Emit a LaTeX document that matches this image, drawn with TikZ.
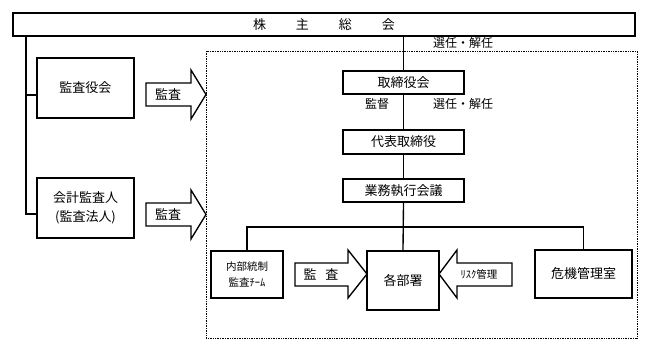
\documentclass[tikz,border=0pt]{standalone}
\usepackage{fontspec}
\setmainfont{Noto Sans CJK JP}
\begin{document}
\begin{tikzpicture}[x=1pt,y=-1pt,
  box/.style={draw, line width=1.35pt, inner sep=0pt, align=center, font=\fontsize{13}{19}\selectfont},
  barrow/.style={draw, line width=1.35pt, line join=miter},
  lbl/.style={inner sep=0pt, font=\fontsize{12}{14}\selectfont},
  conn/.style={line width=1.35pt},
  small/.style={inner sep=0pt, align=center, font=\fontsize{10.5}{16}\selectfont}]
\useasboundingbox (0,0) rectangle (649,352);
% dotted frame
\draw[densely dotted, line width=0.7pt] (206,51) rectangle (637,338);
% boxes
\node[box, minimum width=622pt, minimum height=23pt] (gm) at (324,24.5) {株\hspace{30pt}主\hspace{30pt}総\hspace{30pt}会};
\node[box, minimum width=97pt, minimum height=60pt] (kansa) at (85.5,88) {監査役会};
\node[box, minimum width=97pt, minimum height=60pt] (kaikei) at (85.5,208) {会計監査人\\(監査法人)};
\node[box, minimum width=121pt, minimum height=23pt] (tori) at (403.5,82.5) {取締役会};
\node[box, minimum width=121pt, minimum height=24pt] (daihyo) at (403.5,142) {代表取締役};
\node[box, minimum width=121pt, minimum height=23pt] (gyomu) at (403.5,190.5) {業務執行会議};
\node[box, minimum width=72pt, minimum height=47pt, font=\fontsize{10.5}{16}\selectfont] (naibu) at (247,274.5) {内部統制\\監査ﾁｰﾑ};
\node[box, minimum width=72pt, minimum height=59pt] (kakubu) at (403,280.5) {各部署};
\node[box, minimum width=97pt, minimum height=48pt] (kiki) at (583.5,274) {危機管理室};
% connectors
\coordinate (lx) at (26,0);
\coordinate (b1) at (26,95);
\coordinate (b2) at (26,214);
\coordinate (hy) at (0,227);
\draw[conn] (gm.south -| lx) -- (b2) -- (b2 -| kaikei.west);
\draw[conn] (b1) -- (b1 -| kansa.west);
\draw[conn] (gm.south -| tori.north) -- (tori.north);
\draw[conn] (tori.south) -- (daihyo.north);
\draw[conn] (daihyo.south) -- (gyomu.north);
\draw[conn] (gyomu.south) -- (kakubu.north);
\draw[conn] (naibu.north) |- (kiki.north |- hy) -- (kiki.north);
% labels
\node[lbl] (s1) at (463,43) {選任・解任};
\node[lbl] (s2) at (463,104) {選任・解任};
\node[lbl] (kt) at (377,104) {監督};
% block arrows
\draw[barrow] (146,83) -- (191,83) -- (191,70) -- (206,94.5) -- (191,119) -- (191,106) -- (146,106) -- cycle;
\node[box, draw=none] (a1) at (168,94.5) {監査};
\draw[barrow] (146,203) -- (191,203) -- (191,190) -- (206,214.5) -- (191,239) -- (191,226) -- (146,226) -- cycle;
\node[box, draw=none] (a2) at (168,214.5) {監査};
\draw[barrow] (295,263) -- (348,263) -- (348,250) -- (367,274) -- (348,298) -- (348,286) -- (295,286) -- cycle;
\node[box, draw=none] (a3) at (321,274.5) {監\hspace{9pt}査};
\draw[barrow] (512,263) -- (457,263) -- (457,250) -- (439,274) -- (457,298) -- (457,286) -- (512,286) -- cycle;
\node[small] (a4) at (479,274.5) {ﾘｽｸ管理};
\end{tikzpicture}
\end{document}
